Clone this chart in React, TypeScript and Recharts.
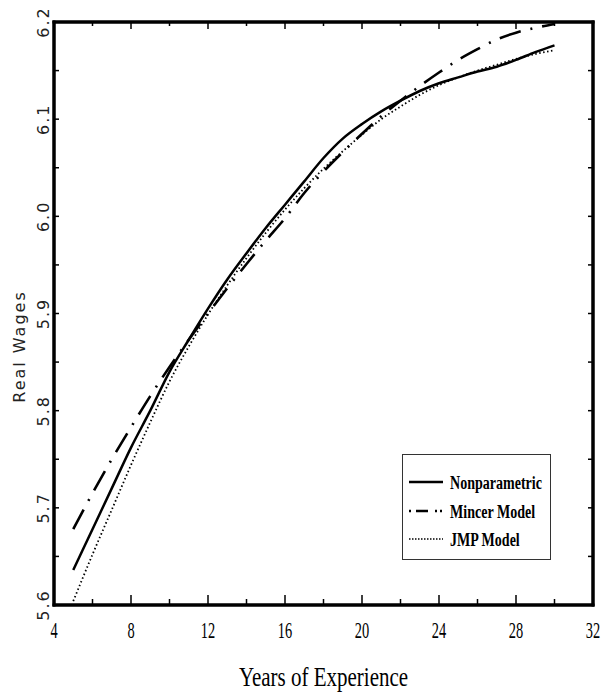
import React from "react";
import { LineChart, Line, XAxis, YAxis, Legend, Label, ReferenceArea } from "recharts";

const years = [5, 6, 7, 8, 9, 10, 11, 12, 13, 14, 15, 16, 17, 18, 19, 20, 21, 22, 23, 24, 25, 26, 27, 28, 29, 30];
const nonparametric = [5.636, 5.678, 5.720, 5.762, 5.800, 5.840, 5.873, 5.905, 5.935, 5.962, 5.988, 6.012, 6.036, 6.060, 6.080, 6.095, 6.108, 6.119, 6.129, 6.137, 6.143, 6.149, 6.154, 6.161, 6.169, 6.176];
const mincer = [5.678, 5.715, 5.750, 5.783, 5.815, 5.845, 5.873, 5.900, 5.926, 5.951, 5.975, 5.998, 6.024, 6.046, 6.066, 6.085, 6.103, 6.119, 6.134, 6.148, 6.161, 6.172, 6.182, 6.189, 6.194, 6.198];
const jmp = [5.604, 5.652, 5.698, 5.744, 5.788, 5.830, 5.866, 5.899, 5.929, 5.957, 5.983, 6.007, 6.029, 6.049, 6.067, 6.084, 6.100, 6.113, 6.125, 6.135, 6.143, 6.150, 6.156, 6.162, 6.167, 6.171];

const xTicks = [4, 6, 8, 10, 12, 14, 16, 18, 20, 22, 24, 26, 28, 30, 32];
const yTicks = [5.6, 5.65, 5.7, 5.75, 5.8, 5.85, 5.9, 5.95, 6.0, 6.05, 6.1, 6.15, 6.2];
const yLabels = ["5.6", "5.7", "5.8", "5.9", "6.0", "6.1", "6.2"];

const seriesNames = ["Nonparametric", "Mincer Model", "JMP Model"];
const seriesKeys = ["np", "mincer", "jmp"];

const data = years.map((y, i) => ({ x: y, np: nonparametric[i], mincer: mincer[i], jmp: jmp[i] }));

const BottomTick = (props: any) => {
  const { x, y, payload } = props;
  const v = payload.value;
  const major = v % 4 === 0;
  return (
    <g>
      <path d={`M${x},${y}V${y - (major ? 10 : 6)}`} stroke="#000" strokeWidth={1.5} fill="none" />
      {major && (
        <text transform={`translate(${x},${y + 33}) scale(0.6,1)`} textAnchor="middle" fontFamily="Liberation Serif" fontSize={24} fill="#000">
          {v}
        </text>
      )}
    </g>
  );
};

const TopTick = (props: any) => {
  const { x, y, payload } = props;
  const major = payload.value % 4 === 0;
  return <path d={`M${x},${y}V${y + (major ? 7 : 4)}`} stroke="#000" strokeWidth={1.5} fill="none" />;
};

const fmtY = (v: number) => {
  const s = v.toFixed(2);
  const t = v.toFixed(1);
  return Math.abs(parseFloat(t) - v) < 1e-6 ? t : s;
};

const LeftTick = (props: any) => {
  const { x, y, payload } = props;
  const lbl = fmtY(payload.value);
  const show = yLabels.indexOf(lbl) >= 0;
  return (
    <g>
      <path d={`M${x},${y}H${x + 5}`} stroke="#000" strokeWidth={1.5} fill="none" />
      {show && (
        <text x={x - 5} y={y} transform={`rotate(-90, ${x - 5}, ${y})`} textAnchor="middle" fontFamily="DejaVu Sans" fontSize={16} letterSpacing={2} fill="#222">
          {lbl}
        </text>
      )}
    </g>
  );
};

const RightTick = (props: any) => {
  const { x, y } = props;
  return <path d={`M${x},${y}H${x - 5}`} stroke="#000" strokeWidth={1.5} fill="none" />;
};

const YLabel = (props: any) => {
  const { viewBox } = props;
  const lx = viewBox.x + viewBox.width - 29;
  const ly = viewBox.y + viewBox.height / 2 + 33;
  return (
    <text x={lx} y={ly} transform={`rotate(-90, ${lx}, ${ly})`} textAnchor="middle" fontFamily="DejaVu Sans" fontSize={16} letterSpacing={2} fill="#222">
      Real Wages
    </text>
  );
};

const XLabel = (props: any) => {
  const { viewBox } = props;
  const lx = viewBox.x + viewBox.width / 2;
  const ly = viewBox.y + 81;
  return (
    <text transform={`translate(${lx},${ly}) scale(0.75,1)`} textAnchor="middle" fontFamily="Liberation Serif" fontSize={28} fill="#000">
      Years of Experience
    </text>
  );
};

const legendDash = ["", "2 5 12 7 2 3 2 10", "1.5 1.5"];
const legendWidth = [2.5, 2.5, 1.5];

const LegendBox = (props: any) => {
  const payload = props.payload || [];
  const rows = [28, 57, 85];
  return (
    <svg width={149} height={106} style={{ display: "block" }}>
      <rect x={0.5} y={0.5} width={148} height={105} fill="#fff" stroke="#333" strokeWidth={1} />
      {seriesKeys.map((k, i) => {
        const entry = payload.find((p: any) => p.dataKey === k);
        const name = entry ? entry.value : seriesNames[i];
        return (
          <g key={k}>
            <path d={`M7,${rows[i]}H41`} stroke="#000" strokeWidth={legendWidth[i]} strokeDasharray={legendDash[i] || undefined} fill="none" />
            <text transform={`translate(48,${rows[i] + 6.5}) scale(0.72,1)`} fontFamily="Liberation Serif" fontWeight="bold" fontSize={19.5} fill="#000">
              {name}
            </text>
          </g>
        );
      })}
    </svg>
  );
};

const axisLineStyle = { stroke: "#000", strokeWidth: 3, strokeLinecap: "square" as const };

export default function App() {
  return (
    <div style={{ position: "absolute", left: 0, top: 0, background: "#fff" }}>
      <LineChart width={608} height={694} data={data} margin={{ top: 21, right: 14, bottom: 88, left: 53 }}>
        <ReferenceArea xAxisId="b" yAxisId="l" x1={4} x2={32} y1={5.6} y2={6.2} fill="#fff" fillOpacity={0} stroke="#000" strokeWidth={3} strokeOpacity={1} ifOverflow="visible" />
        <XAxis
          xAxisId="b"
          dataKey="x"
          type="number"
          domain={[4, 32]}
          ticks={xTicks}
          orientation="bottom"
          height={1}
          tickSize={0}
          tickMargin={0}
          tickLine={false}
          tick={<BottomTick />}
          axisLine={axisLineStyle}
          interval={0}
          allowDataOverflow
        >
          <Label content={<XLabel />} />
        </XAxis>
        <XAxis
          xAxisId="t"
          dataKey="x"
          type="number"
          domain={[4, 32]}
          ticks={xTicks}
          orientation="top"
          height={1}
          tickSize={0}
          tickMargin={0}
          tickLine={false}
          tick={<TopTick />}
          axisLine={axisLineStyle}
          interval={0}
          allowDataOverflow
        />
        <YAxis
          yAxisId="l"
          type="number"
          domain={[5.6, 6.2]}
          ticks={yTicks}
          orientation="left"
          width={1}
          tickSize={0}
          tickMargin={0}
          tickLine={false}
          tick={<LeftTick />}
          axisLine={axisLineStyle}
          interval={0}
          allowDataOverflow
        >
          <Label content={<YLabel />} />
        </YAxis>
        <YAxis
          yAxisId="r"
          type="number"
          domain={[5.6, 6.2]}
          ticks={yTicks}
          orientation="right"
          width={1}
          tickSize={0}
          tickMargin={0}
          tickLine={false}
          tick={<RightTick />}
          axisLine={axisLineStyle}
          interval={0}
          allowDataOverflow
        />
        <Line xAxisId="b" yAxisId="l" type="monotone" dataKey="np" name={seriesNames[0]} stroke="#000" strokeWidth={2.5} dot={false} isAnimationActive={false} />
        <Line xAxisId="b" yAxisId="l" type="monotone" dataKey="mincer" name={seriesNames[1]} stroke="#000" strokeWidth={2.6} strokeDasharray="22 10 2 10" dot={false} isAnimationActive={false} />
        <Line xAxisId="b" yAxisId="l" type="monotone" dataKey="jmp" name={seriesNames[2]} stroke="#000" strokeWidth={1.8} strokeDasharray="1.5 2.5" dot={false} isAnimationActive={false} />
        <Legend
          layout="vertical"
          align="center"
          verticalAlign="middle"
          content={<LegendBox />}
          wrapperStyle={{ position: "absolute", left: 402, top: 454, width: 149, height: 106 }}
        />
      </LineChart>
    </div>
  );
}
